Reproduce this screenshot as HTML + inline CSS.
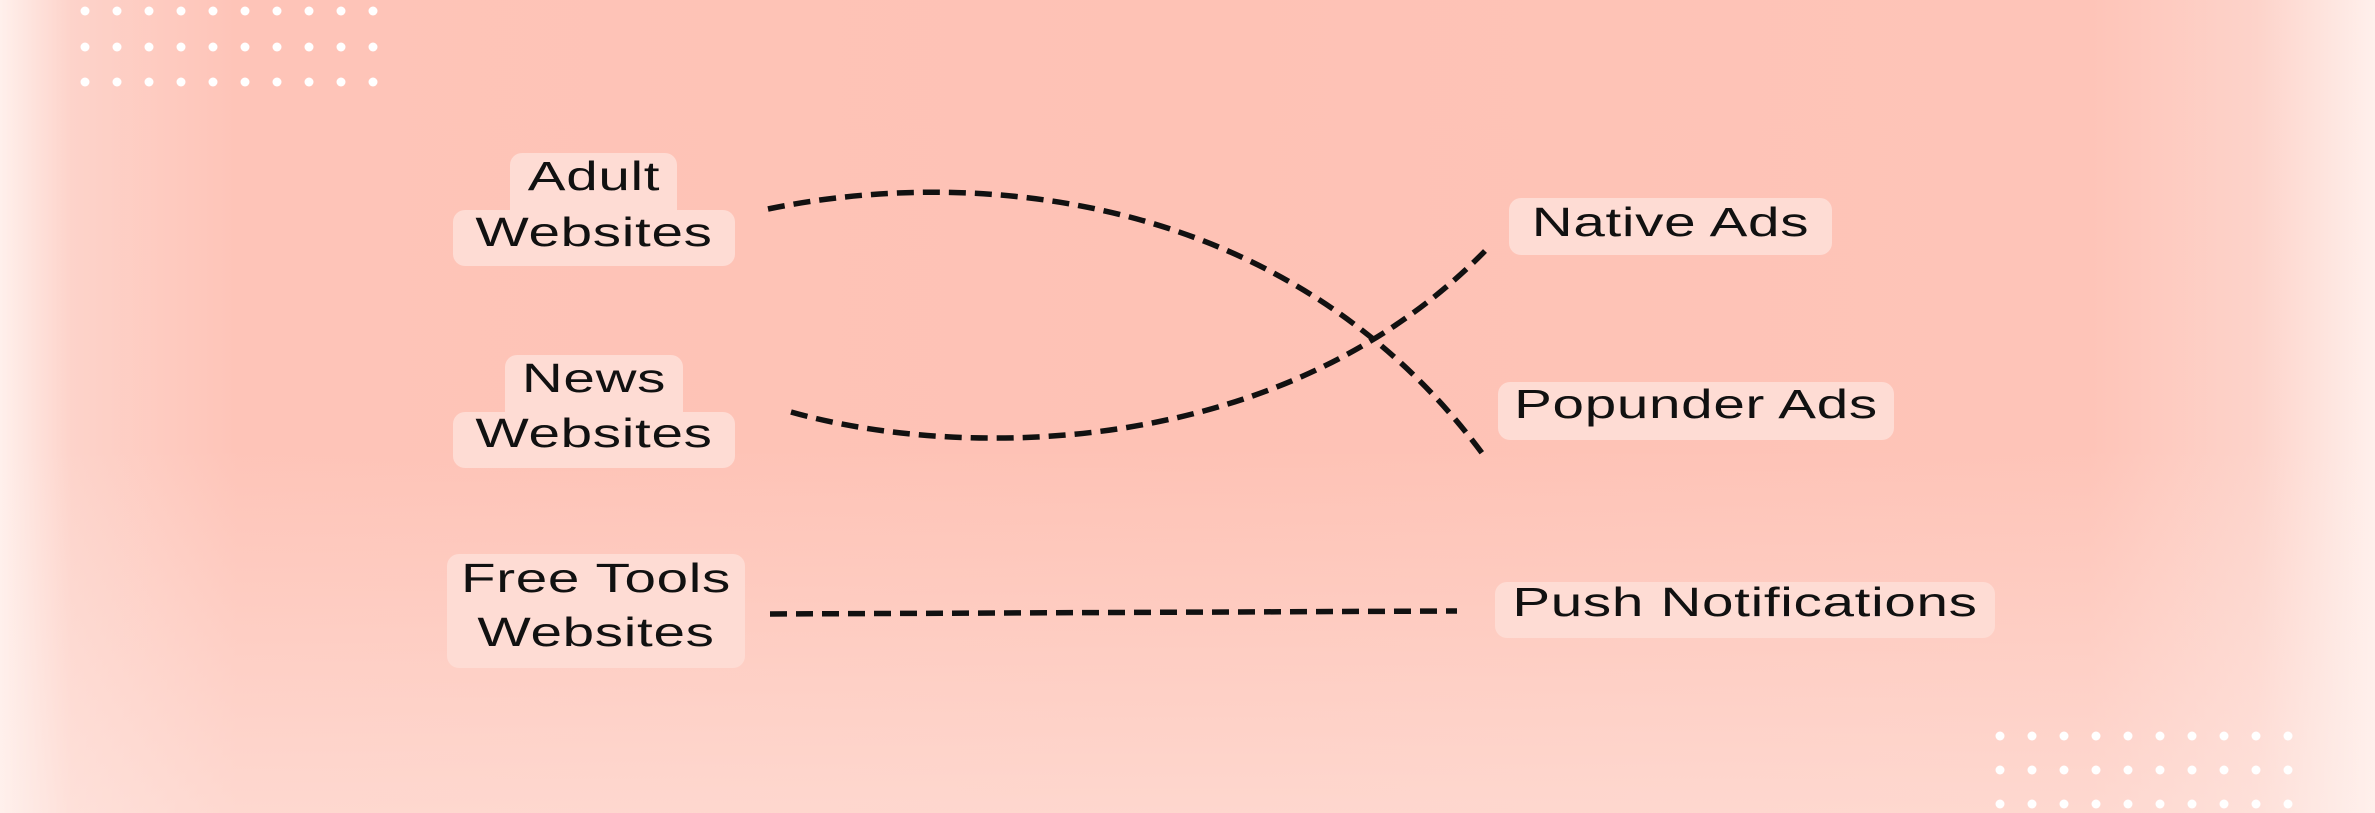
<!DOCTYPE html>
<html><head><meta charset="utf-8"><style>
html,body{margin:0;padding:0}
body{width:2375px;height:813px;overflow:hidden;position:relative;font-family:"Liberation Sans",sans-serif;
background:linear-gradient(90deg,#fff0ec 0%,#fdd3ca 3%,#fec4b8 10%,#fec2b5 50%,#fec4b8 88%,#fdd3ca 95%,#fff0ec 100%);}
.v{position:absolute;inset:0;background:linear-gradient(180deg,rgba(255,255,255,0) 0%,rgba(255,255,255,0) 55%,rgba(255,240,236,.45) 100%)}
.b{position:absolute;background:#fedcd4;border-radius:12px}
.t{position:absolute;font-size:41px;color:#111;letter-spacing:0.5px;white-space:nowrap;text-align:center;line-height:56px;transform:scaleX(1.38)}
svg{position:absolute;left:0;top:0}
</style></head><body>
<div class="v"></div>
<svg width="2375" height="813">
<g fill="#fff">
<g id="r1">
<circle cx="85" cy="11" r="4.5"/><circle cx="117" cy="11" r="4.5"/><circle cx="149" cy="11" r="4.5"/><circle cx="181" cy="11" r="4.5"/><circle cx="213" cy="11" r="4.5"/><circle cx="245" cy="11" r="4.5"/><circle cx="277" cy="11" r="4.5"/><circle cx="309" cy="11" r="4.5"/><circle cx="341" cy="11" r="4.5"/><circle cx="373" cy="11" r="4.5"/>
</g>
<use href="#r1" y="36"/><use href="#r1" y="71"/>
<use href="#r1" x="1915" y="725"/><use href="#r1" x="1915" y="759"/><use href="#r1" x="1915" y="793"/>
</g>
<g fill="none" stroke="#111" stroke-width="5.5" stroke-dasharray="17 9">
<path d="M768 209 C 980 165 1290 195 1482 453"/>
<path d="M791 412 C 960 460 1280 460 1485 251"/>
<path d="M770 614 L 1457 611"/>
</g>
</svg>
<div class="b" style="left:510px;top:153px;width:167px;height:70px"></div>
<div class="b" style="left:453px;top:210px;width:282px;height:56px"></div>
<div class="t" style="left:453px;top:148px;width:282px">Adult</div>
<div class="t" style="left:453px;top:204px;width:282px">Websites</div>
<div class="b" style="left:505px;top:355px;width:178px;height:70px"></div>
<div class="b" style="left:453px;top:412px;width:282px;height:56px"></div>
<div class="t" style="left:453px;top:350px;width:282px">News</div>
<div class="t" style="left:453px;top:405px;width:282px">Websites</div>
<div class="b" style="left:447px;top:554px;width:298px;height:114px"></div>
<div class="t" style="left:447px;top:550px;width:298px">Free Tools</div>
<div class="t" style="left:447px;top:604px;width:298px">Websites</div>
<div class="b" style="left:1509px;top:198px;width:323px;height:57px"></div>
<div class="t" style="left:1509px;top:194px;width:323px">Native Ads</div>
<div class="b" style="left:1498px;top:382px;width:396px;height:58px"></div>
<div class="t" style="left:1498px;top:376px;width:396px">Popunder Ads</div>
<div class="b" style="left:1495px;top:582px;width:500px;height:56px"></div>
<div class="t" style="left:1495px;top:574px;width:500px">Push Notifications</div>
</body></html>
